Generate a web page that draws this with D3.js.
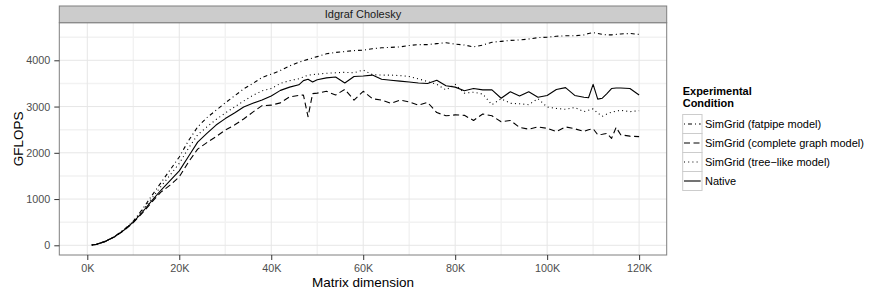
<!DOCTYPE html>
<html><head><meta charset="utf-8">
<script src="https://cdn.jsdelivr.net/npm/d3@7"></script>
<style>body{margin:0;background:#fff}svg{display:block;font-family:"Liberation Sans",Arial,sans-serif}</style>
</head><body><svg id="c" width="869" height="293"></svg>
<script>
// Matrix dimension (thousands)
const dims = [0.96,2,4,6,8,10,12,14,16,18,20,22,24,26,28,30,32,34,36,38,40,42,44,46,47,48,49,50,52,54,56,58,60,62,64,66,68,70,72,74,76,78,80,82,84,86,88,90,92,94,96,98,100,102,104,106,108,109,110,111,112,113,114,115,116,118,120];
const fatpipe = [5,22,90,195,340,520,780,1070,1350,1630,1910,2260,2560,2760,2920,3080,3230,3380,3500,3630,3700,3780,3880,3960,3990,4020,4050,4080,4140,4170,4190,4210,4220,4250,4270,4280,4290,4320,4340,4340,4360,4380,4350,4330,4290,4330,4390,4410,4430,4440,4460,4490,4500,4520,4530,4530,4550,4580,4600,4580,4560,4550,4550,4560,4570,4580,4560];
const complete = [5,20,85,185,320,490,700,930,1150,1300,1480,1800,2080,2220,2350,2490,2600,2730,2880,3020,3030,3080,3210,3240,3250,2780,3280,3290,3330,3250,3370,3140,3330,3170,3140,3070,3140,3100,3030,3090,2870,2800,2820,2810,2700,2840,2800,2670,2700,2550,2510,2560,2530,2460,2560,2520,2460,2500,2520,2390,2400,2420,2310,2550,2390,2360,2350];
const treelike = [5,20,88,192,335,510,750,1010,1270,1520,1770,2100,2390,2560,2720,2860,2990,3120,3240,3340,3390,3500,3560,3600,3640,3680,3690,3700,3720,3730,3740,3730,3790,3690,3680,3680,3670,3650,3600,3540,3480,3360,3480,3290,3310,3270,3040,3170,3070,3060,3040,3170,2990,2960,2940,2980,2890,2920,2950,2860,2790,2840,2880,2900,2920,2890,2910];
const native = [5,20,90,190,330,500,720,960,1190,1400,1610,1920,2230,2420,2600,2740,2860,2990,3070,3140,3230,3350,3420,3470,3560,3590,3530,3580,3620,3640,3510,3650,3660,3680,3590,3570,3550,3530,3510,3500,3570,3450,3420,3340,3390,3360,3360,3180,3320,3230,3320,3200,3240,3370,3410,3240,3200,3190,3480,3160,3180,3280,3390,3400,3400,3390,3250];
const seriesNames = ["SimGrid (fatpipe model)","SimGrid (complete graph model)","SimGrid (tree\u2212like model)","Native"];
const xTicks = [0,20,40,60,80,100,120];
const xTickLabels = ["0K","20K","40K","60K","80K","100K","120K"];
const yTicks = [0,1000,2000,3000,4000];

const dashes = ["1,3,4,3","6,3.5","1,3.2",null];
const values = [fatpipe, complete, treelike, native];

const svg = d3.select("#c");
const L = 59.3, R = 666.7, T = 22.7, B = 255, stripTop = 6;
const x = d3.scaleLinear().domain([-6.09, 126.0]).range([L, R]);
const y = d3.scaleLinear().domain([-209.7, 4813]).range([B, T]);

// grid
const g = svg.append("g");
const minorX = d3.range(10, 120, 20), minorY = d3.range(500, 5000, 1000);
g.selectAll(".mx").data(minorX).join("line").attr("x1", d=>x(d)).attr("x2", d=>x(d)).attr("y1", T).attr("y2", B).attr("stroke", "#f2f2f2").attr("stroke-width", 1.4);
g.selectAll(".my").data(minorY.filter(v=>y(v)>T)).join("line").attr("y1", d=>y(d)).attr("y2", d=>y(d)).attr("x1", L).attr("x2", R).attr("stroke", "#f2f2f2").attr("stroke-width", 1.4);
g.selectAll(".Mx").data(xTicks).join("line").attr("x1", d=>x(d)).attr("x2", d=>x(d)).attr("y1", T).attr("y2", B).attr("stroke", "#e6e6e6").attr("stroke-width", 1);
g.selectAll(".My").data(yTicks).join("line").attr("y1", d=>y(d)).attr("y2", d=>y(d)).attr("x1", L).attr("x2", R).attr("stroke", "#e6e6e6").attr("stroke-width", 1);

// lines
const line = d3.line().x((d,i)=>x(dims[i])).y(d=>y(d));
values.forEach((vals,k)=>{
  const p = svg.append("path").datum(vals).attr("d", line).attr("fill","none").attr("stroke","#000").attr("stroke-width",1.1).attr("stroke-linejoin","round");
  if (dashes[k]) p.attr("stroke-dasharray", dashes[k]);
});

// panel border & strip
svg.append("rect").attr("x", L).attr("y", T).attr("width", R-L).attr("height", B-T).attr("fill","none").attr("stroke","#7f7f7f").attr("stroke-width",1);
svg.append("rect").attr("x", L).attr("y", stripTop).attr("width", R-L).attr("height", T-stripTop).attr("fill","#cccccc").attr("stroke","#7f7f7f").attr("stroke-width",1);
svg.append("text").attr("x", (L+R)/2).attr("y", (stripTop+T)/2).attr("dy","0.35em").attr("text-anchor","middle").attr("font-size",11).attr("fill","#1a1a1a").text("Idgraf Cholesky");

// axes
const xAxis = d3.axisBottom(x).tickValues(xTicks).tickFormat((d,i)=>xTickLabels[i]).tickSize(5).tickPadding(4);
const ax = svg.append("g").attr("transform",`translate(0,${B})`).call(xAxis);
ax.select(".domain").remove();
ax.selectAll("line").attr("stroke","#333");
ax.selectAll("text").attr("font-size",10.8).attr("fill","#4d4d4d").attr("font-family","Liberation Sans, Arial, sans-serif");
const yAxis = d3.axisLeft(y).tickValues(yTicks).tickSize(5).tickPadding(4).tickFormat(d3.format("d"));
const ay = svg.append("g").attr("transform",`translate(${L},0)`).call(yAxis);
ay.select(".domain").remove();
ay.selectAll("line").attr("stroke","#333");
ay.selectAll("text").attr("font-size",10.8).attr("fill","#4d4d4d").attr("font-family","Liberation Sans, Arial, sans-serif");

svg.append("text").attr("x",(L+R)/2).attr("y",286.5).attr("text-anchor","middle").attr("font-size",13.5).text("Matrix dimension");
svg.append("text").attr("transform",`translate(18.5,${(T+B)/2}) rotate(-90)`).attr("dy","0.35em").attr("text-anchor","middle").attr("font-size",13.5).text("GFLOPS");

// legend
const lg = svg.append("g");
lg.append("text").attr("x",682.7).attr("y",94.5).attr("font-size",11).attr("font-weight","bold").text("Experimental");
lg.append("text").attr("x",682.7).attr("y",107.3).attr("font-size",11).attr("font-weight","bold").text("Condition");
const keyH = 19, keyW = 19.3, key0 = 114.5;
seriesNames.forEach((name,k)=>{
  const ky = key0 + k*keyH;
  lg.append("rect").attr("x",682.7).attr("y",ky).attr("width",keyW).attr("height",keyH).attr("fill","#fff").attr("stroke","#cccccc").attr("stroke-width",1);
  const l = lg.append("line").attr("x1",684).attr("x2",682.7+keyW-1.3).attr("y1",ky+keyH/2).attr("y2",ky+keyH/2).attr("stroke","#000").attr("stroke-width",1.1);
  if (dashes[k]) l.attr("stroke-dasharray", dashes[k]);
  lg.append("text").attr("x",705).attr("y",ky+keyH/2).attr("dy","0.35em").attr("font-size",11).text(name);
});
</script></body></html>
